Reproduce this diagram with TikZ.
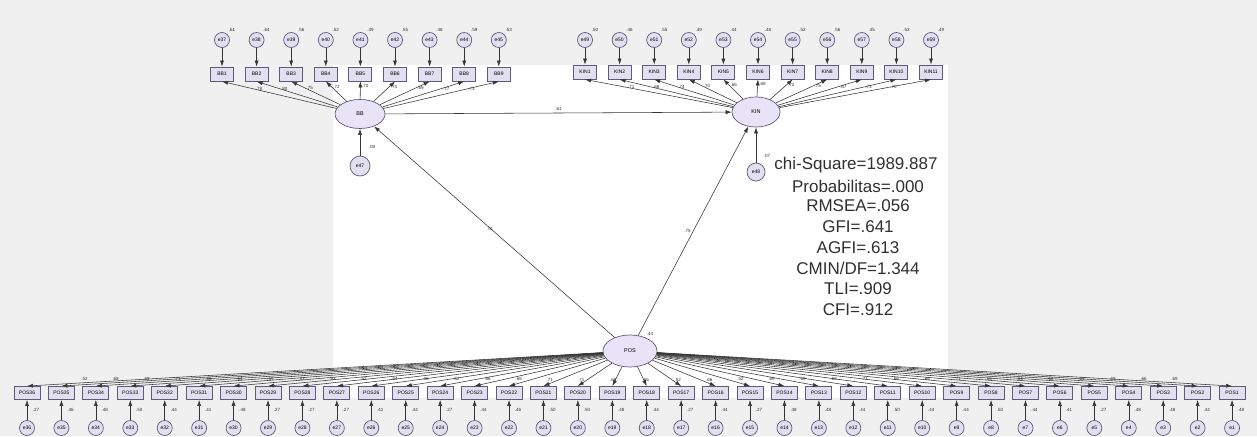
\documentclass[tikz,border=0pt]{standalone}
\usepackage{fontspec}
\setmainfont{Liberation Sans}
\usetikzlibrary{shapes.geometric,arrows.meta}
\definecolor{bggrey}{HTML}{F0F0F0}
\definecolor{latfill}{HTML}{E9E3F7}
\definecolor{boxfill}{HTML}{E2E0F0}
\definecolor{boxdraw}{HTML}{5C5C7A}
\definecolor{linecol}{HTML}{353535}
\definecolor{txtcol}{HTML}{303030}
\begin{document}
\begin{tikzpicture}[x=1pt,y=-1pt,
 lat/.style={ellipse,draw=boxdraw,fill=latfill,line width=0.7pt,minimum width=50pt,minimum height=29pt,inner sep=0pt,font=\fontsize{5.5}{5.5}\selectfont},
 obs/.style={rectangle,draw=boxdraw,fill=boxfill,line width=0.9pt,minimum width=23pt,minimum height=14pt,inner sep=0pt,font=\fontsize{5}{5}\selectfont},
 err/.style={circle,draw=boxdraw,fill=boxfill,line width=0.7pt,minimum size=15pt,inner sep=0pt,font=\fontsize{5}{5}\selectfont},
 arr/.style={draw=linecol,line width=0.55pt,-{Latex[length=6pt,width=4pt]}},
 lbl/.style={font=\fontsize{4.5}{4.5}\selectfont,text=txtcol,inner sep=0.5pt},
 fitline/.style={font=\fontsize{17}{17}\selectfont,text=txtcol,inner sep=0pt}
]
\useasboundingbox (0,0) rectangle (1257,436);
\fill[bggrey] (0,0) rectangle (1257,436);
\fill[white] (333,65) rectangle (948,398);

% latent variables
\node[lat] (bb) at (360,114) {BB};
\node[lat,minimum width=48pt,minimum height=30pt] (kin) at (756,112) {KIN};
\node[lat,minimum width=54pt,minimum height=32pt] (pos) at (630,351) {POS};
\node[err,minimum size=20pt] (e47) at (360,166) {e47};
\node[err,minimum size=18pt] (e48) at (756,172) {e48};

% BB indicators
\foreach \i/\ld/\vr [evaluate=\i as \xx using 222+34.6*(\i-1), evaluate=\i as \en using int(36+\i)] in
 {1/.78/.61,2/.80/.64,3/.75/.56,4/.72/.52,5/.70/.49,6/.74/.55,7/.69/.48,8/.77/.59,9/.73/.53} {
  \node[obs] (bbx\i) at (\xx,74) {BB\i};
  \node[err] (bbe\i) at (\xx,40) {e\en};
  \draw[arr] (bbe\i) -- (bbx\i);
  \draw[arr] (bb) -- (bbx\i.south) node[lbl,pos=0.72,right=1pt] {\ld};
  \node[lbl] (bbv\i) at (\xx+10,30) {\vr};
}

% KIN indicators
\foreach \i/\ld/\vr [evaluate=\i as \xx using 585+34.6*(\i-1), evaluate=\i as \en using int(48+\i)] in
 {1/.71/.50,2/.68/.46,3/.74/.55,4/.70/.49,5/.66/.44,6/.69/.48,7/.72/.52,8/.75/.56,9/.67/.45,10/.73/.53,11/.70/.49} {
  \node[obs] (kinx\i) at (\xx,72) {KIN\i};
  \node[err] (kine\i) at (\xx,40) {e\en};
  \draw[arr] (kine\i) -- (kinx\i);
  \draw[arr] (kin) -- (kinx\i.south) node[lbl,pos=0.72,right=1pt] {\ld};
  \node[lbl] (kinv\i) at (\xx+10,30) {\vr};
}

% POS indicators
\foreach \k/\ld/\vr [evaluate=\k as \xx using 27+34.43*(\k-1), evaluate=\k as \pn using int(37-\k)] in
 {1/.52/.27,2/.68/.46,3/.69/.48,4/.71/.50,5/.66/.44,6/.64/.41,7/.69/.48,8/.52/.27,9/.52/.27,10/.52/.27,
  11/.64/.41,12/.66/.44,13/.52/.27,14/.66/.44,15/.68/.46,16/.71/.50,17/.71/.50,18/.69/.48,19/.66/.44,20/.52/.27,
  21/.66/.44,22/.52/.27,23/.69/.48,24/.69/.48,25/.66/.44,26/.71/.50,27/.66/.44,28/.66/.44,29/.71/.50,30/.66/.44,
  31/.64/.41,32/.52/.27,33/.69/.48,34/.69/.48,35/.66/.44,36/.69/.48} {
  \node[obs,minimum width=26pt,minimum height=13pt] (posx\k) at (\xx,393) {POS\pn};
  \node[err] (pose\k) at (\xx,428) {e\pn};
  \draw[arr] (pose\k) -- (posx\k);
  \draw[arr] (pos) -- (posx\k.north) node[lbl,pos=0.9,above=1.5pt] {\ld};
  \node[lbl] (posv\k) at (\xx+9,410) {\vr};
}

% structural paths
\draw[arr] (bb) -- (kin) node[lbl,midway,above=2pt] {.61};
\draw[arr] (pos) -- (bb) node[lbl,midway,above left=1pt] {.72};
\draw[arr] (pos) -- (kin) node[lbl,midway,left=2pt] {.75};
\draw[arr] (e47) -- (bb);
\draw[arr] (e48) -- (kin);
\node[lbl] (v47) at (372,147) {.08};
\node[lbl] (v48) at (767,156) {.07};
\node[lbl] (vpos) at (650,334) {.44};

% fit indices
\node[fitline] (t1) at (856,165) {chi-Square=1989.887};
\node[fitline] (t2) at (858,186) {Probabilitas=.000};
\node[fitline] (t3) at (858,206) {RMSEA=.056};
\node[fitline] (t4) at (858,227) {GFI=.641};
\node[fitline] (t5) at (858,248) {AGFI=.613};
\node[fitline] (t6) at (858,268) {CMIN/DF=1.344};
\node[fitline] (t7) at (858,289) {TLI=.909};
\node[fitline] (t8) at (858,310) {CFI=.912};
\end{tikzpicture}
\end{document}
